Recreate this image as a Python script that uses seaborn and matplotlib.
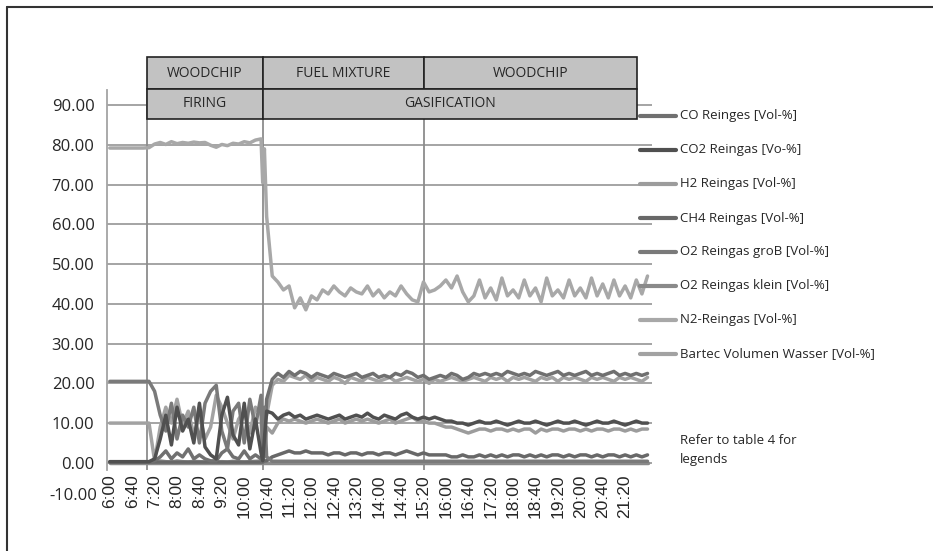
import matplotlib
matplotlib.use("Agg")
import matplotlib.pyplot as plt
from matplotlib.lines import Line2D
from matplotlib.patches import Rectangle
import pandas as pd
import seaborn as sns

# Sampling instants in minutes after 06:00 (10-minute log, two extra samples at the switch-over)
minutes = list(range(0, 271, 10)) + [273, 276] + list(range(280, 961, 10))

tick_minutes = list(range(0, 921, 40))
tick_labels = ["6:00", "6:40", "7:20", "8:00", "8:40", "9:20", "10:00", "10:40",
               "11:20", "12:00", "12:40", "13:20", "14:00", "14:40", "15:20", "16:00",
               "16:40", "17:20", "18:00", "18:40", "19:20", "20:00", "20:40", "21:20"]

# Phase boundaries (minutes after 06:00) and run-plan table
phase_edges = [67, 273, 561]
table_end = 941
fuel_labels = ["WOODCHIP", "FUEL MIXTURE", "WOODCHIP"]
mode_labels = ["FIRING", "GASIFICATION"]

# Gas composition, Vol-%
co = [0.2, 0.2, 0.2, 0.2, 0.2, 0.2, 0.2, 0.2, 0.5, 1.5,
      3.0, 1.0, 2.5, 1.5, 3.5, 1.0, 2.0, 1.0, 0.5, 0.5,
      2.5, 3.5, 1.5, 1.0, 3.0, 1.0, 2.0, 1.0, 0.2, 4.0,
      16.0, 21.0, 22.5, 21.5, 23.0, 22.0, 23.0, 22.5, 21.5, 22.5,
      22.0, 21.5, 22.5, 22.0, 21.5, 22.0, 22.5, 21.5, 22.0, 22.5,
      21.5, 22.0, 21.5, 22.5, 22.0, 23.0, 22.5, 21.5, 22.0, 21.0,
      21.5, 22.0, 21.5, 22.5, 22.0, 21.0, 21.5, 22.5, 22.0, 22.5,
      22.0, 22.5, 22.0, 23.0, 22.5, 22.0, 22.5, 22.0, 23.0, 22.5,
      22.0, 22.5, 23.0, 22.0, 22.5, 22.0, 22.5, 23.0, 22.0, 22.5,
      22.0, 22.5, 23.0, 22.0, 22.5, 22.0, 22.5, 22.0, 22.5]

co2 = [0.3, 0.3, 0.3, 0.3, 0.3, 0.3, 0.3, 0.3, 1.0, 6.0,
       12.0, 4.5, 14.0, 8.0, 11.0, 5.0, 15.0, 4.0, 2.0, 1.0,
       12.0, 16.5, 7.0, 4.5, 15.0, 3.5, 11.0, 2.5, 0.5, 6.0,
       13.0, 12.5, 11.0, 12.0, 12.5, 11.5, 12.0, 11.0, 11.5, 12.0,
       11.5, 11.0, 11.5, 12.0, 11.0, 11.5, 12.0, 11.5, 12.5, 11.5,
       11.0, 12.0, 11.5, 11.0, 12.0, 12.5, 11.5, 11.0, 11.5, 11.0,
       11.5, 11.0, 10.5, 10.5, 10.0, 10.0, 9.5, 10.0, 10.5, 10.0,
       10.0, 10.5, 10.0, 9.5, 10.0, 10.5, 10.0, 10.0, 10.5, 10.0,
       9.5, 10.0, 10.5, 10.0, 10.0, 10.5, 10.0, 9.5, 10.0, 10.5,
       10.0, 10.0, 10.5, 10.0, 9.5, 10.0, 10.5, 10.0, 10.0]

h2 = [0.1, 0.1, 0.1, 0.1, 0.1, 0.1, 0.1, 0.1, 0.1, 0.5,
      0.3, 0.2, 0.5, 0.3, 0.2, 0.4, 0.3, 0.2, 0.3, 0.2,
      0.3, 0.2, 0.4, 0.3, 0.2, 0.3, 0.4, 0.5, 0.2, 2.0,
      9.0, 7.5, 10.0, 11.0, 10.5, 11.0, 10.5, 10.0, 10.5, 11.0,
      10.5, 10.0, 10.5, 11.0, 10.0, 10.5, 11.0, 10.5, 11.0, 10.5,
      10.0, 10.5, 11.0, 10.0, 10.5, 11.0, 11.5, 10.5, 10.5, 10.0,
      10.0, 9.5, 9.0, 9.0, 8.5, 8.0, 7.5, 8.0, 8.5, 8.5,
      8.0, 8.5, 8.5, 8.0, 8.5, 8.0, 8.5, 8.5, 7.5, 8.5,
      8.0, 8.5, 8.5, 8.0, 8.5, 8.5, 8.0, 8.5, 8.0, 8.5,
      8.5, 8.0, 8.5, 8.5, 8.0, 8.5, 8.0, 8.5, 8.5]

ch4 = [0.2, 0.2, 0.2, 0.2, 0.2, 0.2, 0.2, 0.2, 0.2, 0.2,
       0.2, 0.2, 0.2, 0.2, 0.2, 0.2, 0.2, 0.2, 0.2, 0.2,
       0.2, 0.2, 0.2, 0.2, 0.2, 0.2, 0.2, 0.2, 0.2, 0.5,
       0.5, 1.5, 2.0, 2.5, 3.0, 2.5, 2.5, 3.0, 2.5, 2.5,
       2.5, 2.0, 2.5, 2.5, 2.0, 2.5, 2.5, 2.0, 2.5, 2.5,
       2.0, 2.5, 2.5, 2.0, 2.5, 3.0, 2.5, 2.0, 2.5, 2.0,
       2.0, 2.0, 2.0, 1.5, 1.5, 2.0, 1.5, 1.5, 2.0, 1.5,
       2.0, 1.5, 2.0, 1.5, 2.0, 2.0, 1.5, 2.0, 1.5, 2.0,
       1.5, 2.0, 2.0, 1.5, 2.0, 1.5, 2.0, 2.0, 1.5, 2.0,
       1.5, 2.0, 2.0, 1.5, 2.0, 1.5, 2.0, 1.5, 2.0]

o2_gross = [20.5, 20.5, 20.5, 20.5, 20.5, 20.5, 20.5, 20.5, 18.0, 12.0,
            8.0, 15.0, 6.0, 12.0, 9.0, 14.0, 5.0, 15.0, 18.0, 19.5,
            8.0, 3.5, 13.0, 15.0, 5.0, 16.0, 9.0, 17.0, 1.0, 14.0,
            1.5, 0.4, 0.4, 0.4, 0.4, 0.4, 0.4, 0.4, 0.4, 0.4,
            0.4, 0.4, 0.4, 0.4, 0.4, 0.4, 0.4, 0.4, 0.4, 0.4,
            0.4, 0.4, 0.4, 0.4, 0.4, 0.4, 0.4, 0.4, 0.4, 0.4,
            0.4, 0.4, 0.4, 0.4, 0.4, 0.4, 0.4, 0.4, 0.4, 0.4,
            0.4, 0.4, 0.4, 0.4, 0.4, 0.4, 0.4, 0.4, 0.4, 0.4,
            0.4, 0.4, 0.4, 0.4, 0.4, 0.4, 0.4, 0.4, 0.4, 0.4,
            0.4, 0.4, 0.4, 0.4, 0.4, 0.4, 0.4, 0.4, 0.4]

o2_klein = [0.0, 0.0, 0.0, 0.0, 0.0, 0.0, 0.0, 0.0, 0.0, 0.0,
            0.0, 0.0, 0.0, 0.0, 0.0, 0.0, 0.0, 0.0, 0.0, 0.0,
            0.0, 0.0, 0.0, 0.0, 0.0, 0.0, 0.0, 0.0, 0.0, 0.0,
            0.0, 0.0, 0.0, 0.0, 0.0, 0.0, 0.0, 0.0, 0.0, 0.0,
            0.0, 0.0, 0.0, 0.0, 0.0, 0.0, 0.0, 0.0, 0.0, 0.0,
            0.0, 0.0, 0.0, 0.0, 0.0, 0.0, 0.0, 0.0, 0.0, 0.0,
            0.0, 0.0, 0.0, 0.0, 0.0, 0.0, 0.0, 0.0, 0.0, 0.0,
            0.0, 0.0, 0.0, 0.0, 0.0, 0.0, 0.0, 0.0, 0.0, 0.0,
            0.0, 0.0, 0.0, 0.0, 0.0, 0.0, 0.0, 0.0, 0.0, 0.0,
            0.0, 0.0, 0.0, 0.0, 0.0, 0.0, 0.0, 0.0, 0.0]

n2 = [79.2, 79.2, 79.2, 79.2, 79.2, 79.2, 79.2, 79.3, 80.2, 80.6,
      80.1, 80.8, 80.3, 80.6, 80.4, 80.7, 80.5, 80.6, 79.9, 79.4,
      80.1, 79.8, 80.4, 80.2, 80.8, 80.5, 81.2, 81.5, 70.5, 79.0,
      62.0, 47.0, 45.5, 43.5, 44.5, 39.0, 41.5, 38.5, 42.0, 41.0,
      43.5, 42.5, 44.5, 43.0, 42.0, 44.0, 43.0, 42.5, 44.5, 42.0,
      43.5, 41.5, 43.0, 42.0, 44.5, 42.5, 41.0, 40.5, 45.5, 43.0,
      43.5, 44.5, 46.0, 44.0, 47.0, 43.0, 40.5, 42.0, 46.0, 41.5,
      44.0, 41.0, 46.5, 42.0, 43.5, 41.5, 46.0, 42.0, 44.0, 40.5,
      46.5, 42.0, 43.5, 41.5, 46.0, 42.0, 44.0, 41.5, 46.5, 42.0,
      45.0, 41.5, 46.0, 42.0, 44.5, 41.5, 46.0, 42.5, 47.0]

bartec = [10.0, 10.0, 10.0, 10.0, 10.0, 10.0, 10.0, 10.0, 0.5, 9.0,
          14.0, 10.0, 16.0, 9.5, 13.0, 7.0, 12.0, 6.0, 9.0, 17.0,
          14.0, 10.0, 6.0, 11.0, 13.0, 7.5, 14.0, 12.0, 0.5, 10.0,
          12.0, 19.5, 21.0, 20.5, 22.0, 21.5, 21.0, 22.0, 20.5, 21.5,
          21.0, 20.5, 21.5, 21.0, 20.0, 21.5, 21.0, 20.5, 21.5, 21.0,
          20.5, 21.0, 21.5, 20.5, 21.0, 21.5, 21.0, 20.5, 21.0, 20.0,
          21.0, 20.5, 21.0, 21.5, 21.0, 20.5, 21.0, 21.5, 21.0, 20.5,
          21.5, 21.0, 21.5, 20.5, 21.5, 21.0, 21.5, 21.0, 20.5, 21.5,
          21.0, 21.5, 20.5, 21.5, 21.0, 21.5, 21.0, 20.5, 21.5, 21.0,
          21.5, 21.0, 20.5, 21.5, 21.0, 21.5, 21.0, 20.5, 21.5]

series_names = ["CO Reinges [Vol-%]", "CO2 Reingas [Vo-%]", "H2 Reingas [Vol-%]",
                "CH4 Reingas [Vol-%]", "O2 Reingas groB [Vol-%]", "O2 Reingas klein [Vol-%]",
                "N2-Reingas [Vol-%]", "Bartec Volumen Wasser [Vol-%]"]
series_values = [co, co2, h2, ch4, o2_gross, o2_klein, n2, bartec]
series_colors = ["#707070", "#505050", "#9c9c9c", "#686868",
                 "#7a7a7a", "#8a8a8a", "#a8a8a8", "#a2a2a2"]
palette = dict(zip(series_names, series_colors))

frames = [pd.DataFrame({"minute": minutes, "value": vals, "series": name})
          for name, vals in zip(series_names, series_values)]
df = pd.concat(frames, ignore_index=True)

sns.set_style("white")
plt.rcParams["font.family"] = ["Open Sans", "DejaVu Sans"]

W, H = 933, 551
fig, ax = plt.subplots(figsize=(W / 100, H / 100), dpi=100)
fig.subplots_adjust(left=107 / W, right=652 / W, top=1 - 90 / H, bottom=1 - 470 / H)

# Horizontal grid and phase separators
for yv in range(0, 91, 10):
    ax.axhline(yv, color="#a4a4a4", lw=1.4, zorder=0)
for xe in phase_edges:
    ax.axvline(xe, color="#8c8c8c", lw=1.3, zorder=0)

draw_order = ["N2-Reingas [Vol-%]", "Bartec Volumen Wasser [Vol-%]", "H2 Reingas [Vol-%]",
              "O2 Reingas klein [Vol-%]", "CH4 Reingas [Vol-%]", "CO Reinges [Vol-%]",
              "O2 Reingas groB [Vol-%]", "CO2 Reingas [Vo-%]"]
sns.lineplot(data=df, x="minute", y="value", hue="series", hue_order=draw_order,
             palette=palette, linewidth=2.5, estimator=None, legend=False, ax=ax)

ax.set_xlim(-5, 968)
ax.set_ylim(-1.8, 93.8)
ax.set_xlabel("")
ax.set_ylabel("")
ax.set_yticks(range(0, 91, 10))
ax.set_yticklabels([f"{v:.2f}" for v in range(0, 91, 10)], fontsize=12)
ax.set_xticks(tick_minutes)
ax.set_xticklabels(tick_labels, rotation=90, fontsize=12.5,
                   fontfamily=["Liberation Sans", "DejaVu Sans"])
ax.tick_params(axis="y", length=4, color="#a4a4a4", width=1.2, pad=5)
ax.tick_params(axis="x", length=0, pad=3)
for side in ["top", "right", "bottom"]:
    ax.spines[side].set_visible(False)
ax.spines["left"].set_color("#a4a4a4")
ax.spines["left"].set_linewidth(1.3)

# Lowest axis label sits among the time labels
ax.text(-0.018, -8.3, "-10.00", transform=ax.get_yaxis_transform(),
        ha="right", va="center", fontsize=12, clip_on=False)

# Run-plan table above the plot
row_top, row_mid, row_bot = 102.0, 94.1, 86.5
fuel_spans = [(phase_edges[0], phase_edges[1]), (phase_edges[1], phase_edges[2]),
              (phase_edges[2], table_end)]
mode_spans = [(phase_edges[0], phase_edges[1]), (phase_edges[1], table_end)]
for (x0, x1), lab in zip(fuel_spans, fuel_labels):
    ax.add_patch(Rectangle((x0, row_mid), x1 - x0, row_top - row_mid, facecolor="#c2c2c2",
                           edgecolor="#222222", lw=1.2, clip_on=False, zorder=5))
    ax.text((x0 + x1) / 2, (row_mid + row_top) / 2, lab, ha="center", va="center",
            fontsize=10, zorder=6, clip_on=False)
for (x0, x1), lab in zip(mode_spans, mode_labels):
    ax.add_patch(Rectangle((x0, row_bot), x1 - x0, row_mid - row_bot, facecolor="#c2c2c2",
                           edgecolor="#222222", lw=1.2, clip_on=False, zorder=5))
    ax.text((x0 + x1) / 2, (row_bot + row_mid) / 2, lab, ha="center", va="center",
            fontsize=10, zorder=6, clip_on=False)

# Legend column on the right
for i, (name, col) in enumerate(zip(series_names, series_colors)):
    yf = 1 - (116 + 34 * i) / H
    fig.add_artist(Line2D([640 / W, 676 / W], [yf, yf], transform=fig.transFigure,
                          color=col, lw=3.0))
    fig.text(680 / W, yf, name, ha="left", va="center", fontsize=9.5)

fig.text(680 / W, 1 - 441 / H, "Refer to table 4 for", ha="left", va="center", fontsize=9.5)
fig.text(680 / W, 1 - 459 / H, "legends", ha="left", va="center", fontsize=9.5)

# Outer frame
fig.add_artist(Line2D([7 / W, 1], [1 - 7 / H, 1 - 7 / H], transform=fig.transFigure,
                      color="#333333", lw=1.5))
fig.add_artist(Line2D([7 / W, 7 / W], [0, 1 - 7 / H], transform=fig.transFigure,
                      color="#333333", lw=1.5))

fig.savefig("out.png", dpi=100)
